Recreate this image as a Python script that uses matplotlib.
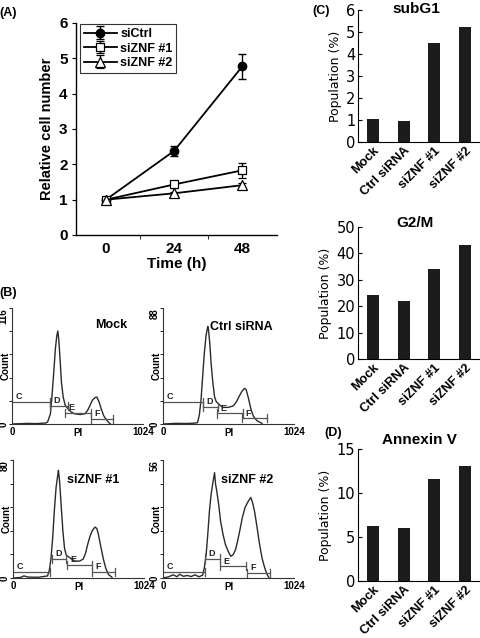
import matplotlib
matplotlib.use("Agg")
import matplotlib.pyplot as plt
import numpy as np

plt.rcParams['font.family'] = ['Liberation Sans', 'DejaVu Sans']

# ---------------- data ----------------
# (A) growth curve
time_labels = ['0', '24', '48']
sictrl = [1.0, 2.38, 4.77]
sictrl_err = [0.0, 0.15, 0.36]
siznf1 = [1.0, 1.43, 1.83]
siznf1_err = [0.0, 0.10, 0.22]
siznf2 = [1.0, 1.18, 1.41]
siznf2_err = [0.0, 0.05, 0.07]

# (C), (D) bar charts
bar_cats = ['Mock', 'Ctrl siRNA', 'siZNF #1', 'siZNF #2']
subg1 = [1.05, 0.95, 4.5, 5.25]
g2m = [24.2, 22.0, 34.2, 43.2]
annexin = [6.3, 6.0, 11.6, 13.1]

# (B) flow cytometry histograms (PI channel, counts)
mock_pi = [0, 60, 119, 190, 265, 278, 300, 310, 326, 339, 350, 358, 366, 376, 387, 400,
           416, 437, 464, 490, 530, 570, 591, 610, 628, 649, 663, 681, 697, 716, 734, 755, 769]
mock_cnt = [0, 0.3, 0.6, 0.4, 1.0, 2.0, 10, 24, 51, 75, 88, 93, 84, 64, 41, 27,
            18.6, 15.3, 11.9, 10.2, 9.5, 10.2, 13.6, 18.6, 23.7, 26.4, 27, 22, 15.3, 8.5, 5, 1.7, 0]
ctrl_pi = [0, 100, 180, 240, 270, 284, 297, 310, 323, 337, 350, 355, 366, 376, 390, 403,
           416, 443, 469, 509, 549, 575, 594, 615, 636, 649, 668, 689, 708, 734, 774]
ctrl_cnt = [0, 0.5, 0.4, 0.6, 1.0, 6.8, 18, 36, 53.6, 67.5, 74, 72, 61, 46, 31, 20.7,
            17, 14.4, 12.6, 12.6, 13.7, 17, 20.7, 24.5, 27, 26.3, 19.5, 10.6, 5.6, 2.5, 0.5]
znf1_pi = [0, 60, 85, 120, 200, 270, 284, 297, 310, 323, 337, 350, 355, 363, 376, 390, 403,
           416, 443, 482, 522, 549, 567, 583, 602, 620, 641, 655, 668, 686, 708, 726, 747, 774]
znf1_cnt = [0, 0.4, 1.4, 0.6, 0.5, 1.4, 5.3, 13.3, 27, 45.5, 61.6, 69.7, 73, 67, 50, 31.7, 20,
            15.6, 13.8, 11.5, 11.5, 12.9, 16.8, 22.5, 28.3, 32.2, 34.5, 33.6, 29.4, 21.4, 12.2, 6.4, 2.3, 0.5]
znf2_pi = [0, 40, 80, 110, 130, 160, 190, 220, 250, 280, 310, 323, 337, 350, 363, 376, 390,
           403, 411, 421, 435, 450, 469, 488, 509, 530, 549, 567, 583, 602, 620, 641, 668,
           686, 700, 715, 734, 753, 774, 795, 814, 827]
znf2_cnt = [0, 0.5, 1.5, 0.6, 1.8, 0.8, 1.2, 0.7, 1.5, 0.6, 1.3, 4.8, 11, 20.7, 31.8, 39.7, 45.3,
            50, 44.5, 41, 35, 27, 20.7, 15.9, 12.7, 10.3, 11.1, 13.5, 17.5, 23, 28.6, 33.4, 36.6,
            38.2, 35.8, 31.8, 24.6, 16.7, 9.5, 4.8, 1.6, 0.3]

gate_names = ['C', 'D', 'E', 'F']
mock_gate_start = [0, 300, 411, 617]
mock_gate_end = [300, 437, 617, 790]
mock_gate_y = [22, 18, 11, 5]
ctrl_gate_start = [0, 310, 424, 615]
ctrl_gate_end = [310, 429, 628, 813]
ctrl_gate_y = [17, 13, 8, 4.3]
znf1_gate_start = [0, 302, 421, 620]
znf1_gate_end = [291, 416, 620, 800]
znf1_gate_y = [4.1, 12.9, 8.7, 4.1]
znf2_gate_start = [0, 329, 443, 655]
znf2_gate_end = [329, 443, 647, 840]
znf2_gate_y = [2.9, 9.2, 5.6, 2.4]

hist_titles = ['Mock', 'Ctrl siRNA', 'siZNF #1', 'siZNF #2']
hist_ymax = [116, 88, 80, 56]

# ---------------- figure ----------------
W, H = 480, 638
fig = plt.figure(figsize=(W / 100, H / 100), dpi=100)


def px_axes(l, t, r, b):
    return fig.add_axes([l / W, 1 - b / H, (r - l) / W, (b - t) / H])


def fig_text(x, y, s, **kw):
    fig.text(x / W, 1 - y / H, s, **kw)


# ---- (A) ----
axA = px_axes(76, 23, 277, 235)
xs = np.arange(len(time_labels))
lw = 1.3
axA.errorbar(xs, sictrl, yerr=sictrl_err, color='black', lw=lw, marker='o', ms=6,
             mfc='black', mec='black', capsize=3, elinewidth=1, capthick=1, label='siCtrl')
axA.errorbar(xs, siznf1, yerr=siznf1_err, color='black', lw=lw, marker='s', ms=6,
             mfc='white', mec='black', mew=0.9, capsize=3, elinewidth=1, capthick=1, label='siZNF #1')
axA.errorbar(xs, siznf2, yerr=siznf2_err, color='black', lw=lw, marker='^', ms=6.5,
             mfc='white', mec='black', mew=0.9, capsize=3, elinewidth=1, capthick=1, label='siZNF #2')
axA.set_xlim(-0.44, 2.51)
axA.set_ylim(0, 6)
axA.set_xticks(xs)
axA.set_xticklabels(time_labels)
axA.set_xticks([0.5, 1.5], minor=True)
axA.tick_params(axis='x', which='major', length=0, pad=5)
axA.tick_params(axis='x', which='minor', length=3, direction='out')
axA.set_yticks(range(0, 7))
axA.tick_params(axis='y', length=3, direction='out', pad=3)
for lab in axA.get_xticklabels() + axA.get_yticklabels():
    lab.set_fontweight('bold')
    lab.set_fontsize(11)
axA.spines['top'].set_visible(False)
axA.spines['right'].set_visible(False)
for sp in axA.spines.values():
    sp.set_linewidth(1.0)
axA.set_xlabel('Time (h)', fontsize=11, fontweight='bold', labelpad=1)
axA.set_ylabel('Relative cell number', fontsize=10.5, fontweight='bold', labelpad=4)
leg = axA.legend(loc='upper left', bbox_to_anchor=(0.015, 1.0), prop={'weight': 'bold', 'size': 9},
                 frameon=True, fancybox=False, edgecolor='black', handlelength=2.6,
                 borderpad=0.3, labelspacing=0.2, handletextpad=0.3, borderaxespad=0.1)
leg.get_frame().set_linewidth(0.8)

# ---- (B) histograms ----
hist_boxes = [(12, 308, 143, 424), (163, 308, 294, 424), (13, 460, 144, 578), (163, 460, 294, 578)]
hist_pi = [mock_pi, ctrl_pi, znf1_pi, znf2_pi]
hist_cnt = [mock_cnt, ctrl_cnt, znf1_cnt, znf2_cnt]
g_start = [mock_gate_start, ctrl_gate_start, znf1_gate_start, znf2_gate_start]
g_end = [mock_gate_end, ctrl_gate_end, znf1_gate_end, znf2_gate_end]
g_y = [mock_gate_y, ctrl_gate_y, znf1_gate_y, znf2_gate_y]
title_pos = [(0.76, 0.853), (0.6, 0.836), (0.61, 0.83), (0.64, 0.83)]

for i in range(4):
    ax = px_axes(*hist_boxes[i])
    ymax = hist_ymax[i]
    ax.plot(hist_pi[i], hist_cnt[i], color='#2a2a2a', lw=1.0)
    ax.set_xlim(0, 1024)
    ax.set_ylim(0, ymax)
    cap = ymax * 0.035
    for k in range(4):
        xs0, xe, yy = g_start[i][k], g_end[i][k], g_y[i][k]
        ax.plot([xs0, xe], [yy, yy], color='#555555', lw=0.9)
        if k > 0:
            ax.plot([xs0, xs0], [yy - cap, yy + cap], color='#555555', lw=0.9)
        ax.plot([xe, xe], [yy - cap, yy + cap], color='#555555', lw=0.9)
        ax.annotate(gate_names[k], (xs0, yy), xytext=(2.5, 0.5), textcoords='offset points',
                    ha='left', va='bottom', fontsize=6.5, fontweight='bold', color='#222222')
    ax.spines['top'].set_visible(False)
    ax.spines['right'].set_visible(False)
    ax.spines['left'].set_linewidth(0.8)
    ax.spines['bottom'].set_linewidth(0.8)
    ax.spines['left'].set_color('#333333')
    ax.spines['bottom'].set_color('#333333')
    ax.set_xticks([0, 1024])
    ax.set_xticklabels(['0', '1024'], fontsize=7, fontweight='bold')
    ax.tick_params(axis='x', length=0, pad=2)
    ax.set_yticks(np.linspace(0, ymax, 6))
    ax.set_yticklabels([])
    ax.tick_params(axis='y', length=2, direction='out', width=0.6)
    ax.text(-0.025, 1.0, str(ymax), transform=ax.transAxes, rotation=90, ha='right', va='top',
            fontsize=7, fontweight='bold')
    ax.text(-0.025, 0.0, '0', transform=ax.transAxes, rotation=90, ha='right', va='center',
            fontsize=7, fontweight='bold')
    ax.text(0.5, -0.035, 'PI', transform=ax.transAxes, ha='center', va='top',
            fontsize=7, fontweight='bold')
    ax.text(-0.052, 0.5, 'Count', transform=ax.transAxes, rotation=90, ha='center', va='center',
            fontsize=7, fontweight='bold')
    ax.text(title_pos[i][0], title_pos[i][1], hist_titles[i], transform=ax.transAxes,
            ha='center', va='center', fontsize=9, fontweight='bold')

# ---- (C), (D) bars ----
bar_boxes = [(358, 10, 480, 142), (358, 227, 480, 359), (358, 449, 480, 581)]
bar_vals = [subg1, g2m, annexin]
bar_titles = ['subG1', 'G2/M', 'Annexin V']
bar_ylims = [6, 50, 15]
bar_ticks = [list(range(0, 7)), list(range(0, 51, 10)), [0, 5, 10, 15]]
bar_title_off = [(0.48, 1), (0.47, 3), (0.5, 6.5)]
for j in range(3):
    ax = px_axes(*bar_boxes[j])
    ax.bar(np.arange(4), bar_vals[j], width=0.4, color='#1c1c1c')
    ax.set_xlim(-0.5, 3.5)
    ax.set_ylim(0, bar_ylims[j])
    ax.set_yticks(bar_ticks[j])
    ax.set_yticklabels([str(t) for t in bar_ticks[j]], family='DejaVu Sans', fontsize=10.5)
    ax.tick_params(axis='y', length=3, direction='in', pad=2)
    ax.set_xticks(np.arange(4))
    ax.set_xticklabels(bar_cats, rotation=45, ha='right', rotation_mode='anchor',
                       fontsize=9.2, fontweight='bold')
    ax.tick_params(axis='x', length=0, pad=2)
    ax.spines['top'].set_visible(False)
    ax.spines['right'].set_visible(False)
    ax.set_ylabel('Population (%)', family='DejaVu Sans', fontsize=9, labelpad=3)
    ax.annotate(bar_titles[j], (bar_title_off[j][0], 1.0), xycoords='axes fraction',
                xytext=(0, bar_title_off[j][1]), textcoords='offset points',
                ha='center', va='center', fontsize=11, fontweight='bold')

# ---- panel labels ----
fig_text(8, 13, '(A)', ha='center', va='center', fontsize=9, fontweight='bold')
fig_text(8, 293, '(B)', ha='center', va='center', fontsize=9, fontweight='bold')
fig_text(321, 11, '(C)', ha='center', va='center', fontsize=9, fontweight='bold')
fig_text(333, 433, '(D)', ha='center', va='center', fontsize=9, fontweight='bold')

fig.savefig('out.png', dpi=100)
